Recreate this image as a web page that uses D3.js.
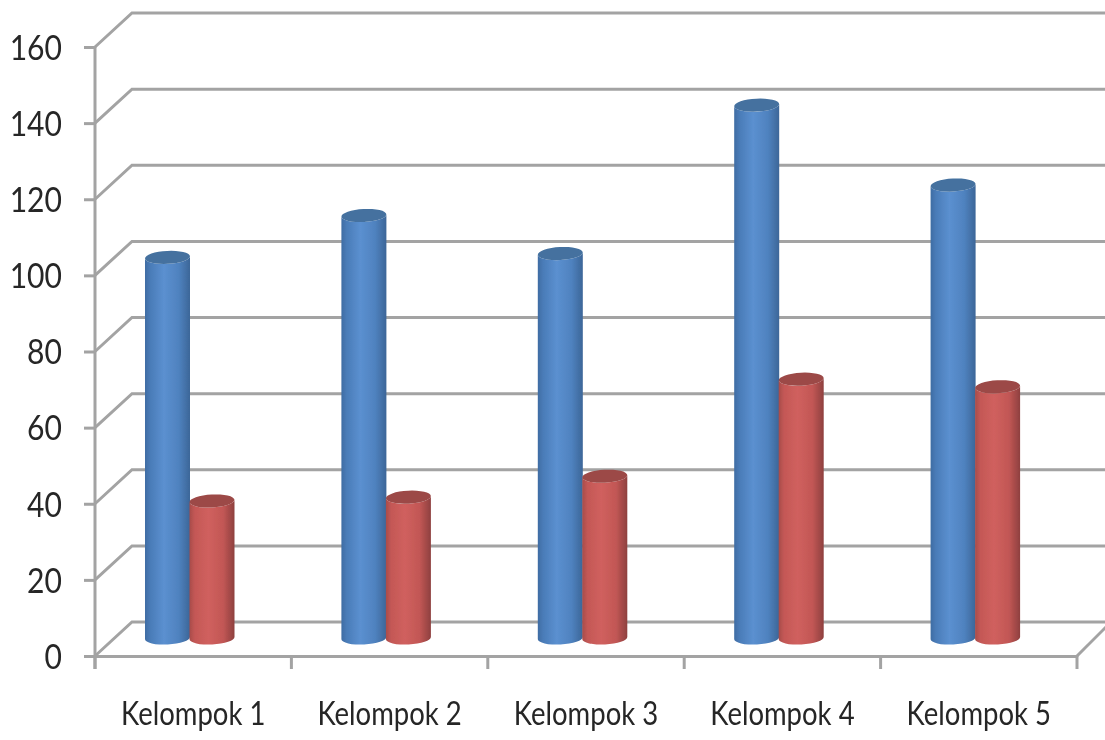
<!DOCTYPE html>
<html><head><meta charset="utf-8">
<script src="https://cdn.jsdelivr.net/npm/d3@7"></script>
<style>html,body{margin:0;padding:0;background:#fff;overflow:hidden}svg{display:block}</style>
</head><body><svg id="c" width="1105" height="740"></svg>
<script>
const categories = ["Kelompok 1","Kelompok 2","Kelompok 3","Kelompok 4","Kelompok 5"];
const seriesNames = ["Series 1","Series 2"];
const series1 = [100,111,101,140,119];
const series2 = [36,37,42.5,68,66];
const yTicks = [0,20,40,60,80,100,120,140,160];

const W=1105,H=740,plotLeft=95,plotRight=1077,plotBottom=656,plotTop=47,depthX=37,depthY=34,baseLift=18,grey="#a3a3a3";
const svg=d3.select("#c");
const defs=svg.append("defs");
defs.append("filter").attr("id","soft").attr("filterUnits","userSpaceOnUse").attr("x",0).attr("y",0).attr("width",W).attr("height",H)
  .append("feGaussianBlur").attr("stdDeviation",0.7);
function grad(id,stops){
  const g=defs.append("linearGradient").attr("id",id);
  stops.forEach(s=>g.append("stop").attr("offset",s[0]).attr("stop-color",s[1]));
}
grad("gBlue",[[0,"#3f6ca3"],[0.12,"#4a7cb8"],[0.42,"#5b90d0"],[0.75,"#4f82bf"],[1,"#3c6698"]]);
grad("gRed",[[0,"#a84c4a"],[0.12,"#c45856"],[0.42,"#d0605e"],[0.75,"#c25755"],[1,"#8e403f"]]);

const root=svg.append("g").attr("filter","url(#soft)");
const y=d3.scaleLinear().domain([0,160]).range([plotBottom,plotTop]);
const x0=d3.scaleBand().domain(categories).range([plotLeft,plotRight]);
const x1=d3.scaleBand().domain(seriesNames).range([50,139]);

// walls and floor
const grid=root.append("g").attr("fill","none").attr("stroke",grey).attr("stroke-width",3);
grid.selectAll("path").data(yTicks).join("path")
  .attr("d",v=>d3.line()([[plotLeft,y(v)],[plotLeft+depthX,y(v)-depthY],[W+2,y(v)-depthY]]));
grid.append("path").attr("d",d3.line()([[plotRight,plotBottom],[W+2,plotBottom-depthY+4]]));

// axes
const stretch=0.86;
const yAxis=root.append("g").attr("transform",`translate(${plotLeft},0)`)
  .call(d3.axisLeft(y).tickValues(yTicks).tickSize(11).tickSizeOuter(0));
const xAxis=root.append("g").attr("transform",`translate(0,${plotBottom})`)
  .call(d3.axisBottom(x0).tickSize(0).tickPadding(46));
const xEdges=root.append("g").attr("stroke",grey).attr("stroke-width",3);
xEdges.selectAll("line").data(categories.map(c=>x0(c)).concat([plotRight])).join("line")
  .attr("x1",d=>d).attr("x2",d=>d).attr("y1",plotBottom).attr("y2",plotBottom+13);
[yAxis,xAxis].forEach(a=>{
  a.selectAll(".domain").attr("stroke",grey).attr("stroke-width",3);
  a.selectAll(".tick line").attr("stroke",grey).attr("stroke-width",3);
});
yAxis.select(".domain").attr("d",`M0,${plotBottom+13}V${plotTop}`);
yAxis.selectAll("text").attr("font-family","Lato").attr("font-size",35).attr("fill","#262626")
  .attr("dy","0.35em").attr("x",-33/stretch).attr("transform",`scale(${stretch},1)`);
xAxis.selectAll("text").attr("font-family","Lato").attr("font-size",32).attr("fill","#262626")
  .attr("transform",`scale(${stretch},1)`);

// cylinders
const ry=6.5, tilt=-3;
function bodyPath(xl,w,yTop,yBase){
  const rx=w/2,t=w/2*Math.tan(tilt*Math.PI/180);
  return `M${xl},${yTop-t}L${xl},${yBase-t}A${rx},${ry} ${tilt} 0 0 ${xl+w},${yBase+t}L${xl+w},${yTop+t}A${rx},${ry} ${tilt} 0 1 ${xl},${yTop-t}Z`;
}
const rows=categories.map((c,i)=>({c,vals:[series1[i],series2[i]]}));
const groups=root.selectAll("g.cat").data(rows).join("g").attr("class","cat")
  .attr("transform",d=>`translate(${x0(d.c)},0)`);
const styles=[{fill:"url(#gBlue)",cap:"#44719f"},{fill:"url(#gRed)",cap:"#9c4947"}];
groups.each(function(d){
  const g=d3.select(this);
  d.vals.forEach((v,i)=>{
    const s=seriesNames[i],xl=x1(s),w=x1.bandwidth()+0.5;
    const yt=y(v)-baseLift,yb=y(0)-baseLift;
    g.append("path").attr("d",bodyPath(xl,w,yt,yb)).attr("fill",styles[i].fill);
    g.append("ellipse").attr("cx",xl+w/2).attr("cy",yt).attr("rx",w/2).attr("ry",ry)
      .attr("transform",`rotate(${tilt} ${xl+w/2} ${yt})`).attr("fill",styles[i].cap);
  });
});
</script></body></html>
